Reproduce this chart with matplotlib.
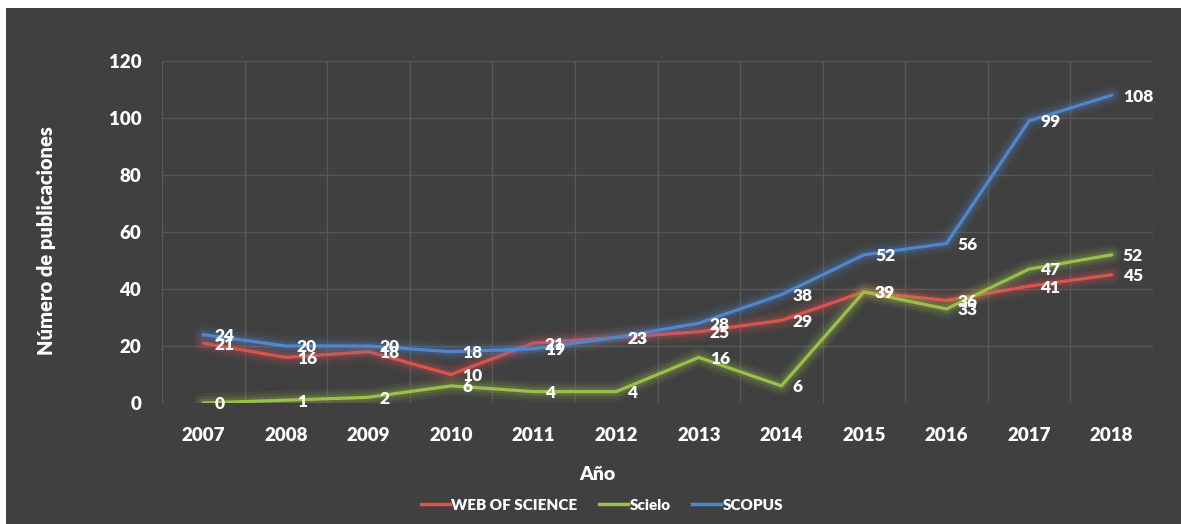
import matplotlib
matplotlib.use("Agg")
import matplotlib.pyplot as plt
import matplotlib.patheffects as pe
from matplotlib.patches import Rectangle

years = ["2007", "2008", "2009", "2010", "2011", "2012", "2013", "2014", "2015", "2016", "2017", "2018"]
wos = [21, 16, 18, 10, 21, 23, 25, 29, 39, 36, 41, 45]
scielo = [0, 1, 2, 6, 4, 4, 16, 6, 39, 33, 47, 52]
scopus = [24, 20, 20, 18, 19, 23, 28, 38, 52, 56, 99, 108]
series_names = ["WEB OF SCIENCE", "Scielo", "SCOPUS"]
yticks = [0, 20, 40, 60, 80, 100, 120]

colors = ["#D9534F", "#9BC04A", "#4F86CC"]
bg = "#404040"
fam = ["Lato", "DejaVu Sans"]

W, H = 1181, 524
fig = plt.figure(figsize=(W / 100, H / 100), dpi=100)
fig.patch.set_facecolor("white")
fig.add_artist(Rectangle((6 / W, 0), 1 - 6 / W, 1 - 8 / H, transform=fig.transFigure,
                         facecolor=bg, edgecolor="none", zorder=0))

ax = fig.add_axes([162 / W, 1 - 403 / H, (1153 - 162) / W, (403 - 61) / H])
ax.set_facecolor(bg)
for s in ax.spines.values():
    s.set_visible(False)

x = list(range(len(years)))
ax.set_xlim(-0.5, len(years) - 0.5)
ax.set_ylim(0, 120)
ax.set_yticks(yticks)
ax.set_xticks(x)
ax.set_xticklabels(years)
ax.set_xticks([i - 0.5 for i in range(len(years) + 1)], minor=True)
ax.grid(True, which="major", axis="y", color="#575757", linewidth=1)
ax.grid(True, which="minor", axis="x", color="#575757", linewidth=1)
ax.tick_params(axis="both", which="both", length=0, colors="white")
ax.tick_params(axis="y", pad=15)
ax.tick_params(axis="x", pad=17)
for lab in ax.get_xticklabels() + ax.get_yticklabels():
    lab.set_fontfamily(fam)
    lab.set_fontweight("heavy")
    lab.set_fontsize(13.5)
    lab.set_color("white")

for vals, name, c in zip([wos, scielo, scopus], series_names, colors):
    ax.plot(x, vals, color=c, linewidth=2.3, label=name, zorder=3,
            solid_joinstyle="round", solid_capstyle="round",
            path_effects=[pe.Stroke(linewidth=14, foreground=c, alpha=0.07),
                          pe.Stroke(linewidth=10, foreground=c, alpha=0.10),
                          pe.Stroke(linewidth=6, foreground=c, alpha=0.18),
                          pe.Normal()])
    for xi, v in zip(x, vals):
        ax.annotate(str(v), (xi, v), xytext=(8, -1), textcoords="offset points",
                    ha="left", va="center", color="white", fontsize=12.5,
                    fontweight="heavy", family=fam, zorder=5)

fig.text(47 / W, 1 - 241 / H, "Número de publicaciones", rotation=90, ha="center",
         va="center", color="white", fontsize=14.5, fontweight="heavy", family=fam)
fig.text(597 / W, 1 - 474 / H, "Año", ha="center", va="center", color="white",
         fontsize=14, fontweight="heavy", family=fam)

leg_handles = [plt.Line2D([], [], color=c, linewidth=2.5) for c in colors]
leg = fig.legend(leg_handles, series_names, loc="center", ncol=3,
                 bbox_to_anchor=(602 / W, 1 - 505 / H), frameon=False,
                 handlelength=1.9, handletextpad=0.1, columnspacing=1.4,
                 prop={"family": fam, "weight": "heavy", "size": 11})
for t in leg.get_texts():
    t.set_color("white")

fig.savefig("out.png", dpi=100, facecolor=fig.get_facecolor())
